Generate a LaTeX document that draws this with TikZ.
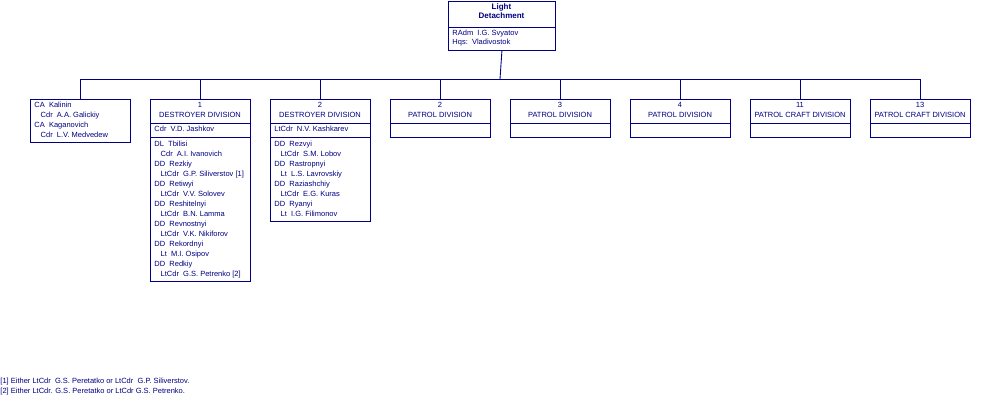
\documentclass[tikz,border=0pt]{standalone}
\usepackage{fontspec}
\setmainfont{Liberation Sans}
\definecolor{nv}{RGB}{0,0,128}
\begin{document}
\begin{tikzpicture}[x=1pt,y=-1pt,color=nv,line width=0.9pt,
  box/.style={draw,rectangle,inner sep=0,anchor=north west},
  tx/.style={anchor=north west,inner sep=0,font=\fontsize{7.5}{9.5}\selectfont,align=left},
  hd/.style={anchor=north,inner sep=0,font=\fontsize{7.5}{9.5}\selectfont,align=center}]
\useasboundingbox (0,0) rectangle (1000,400);
% top
\node[box,minimum width=107pt,minimum height=49pt] (top) at (448,0.5) {};
\draw (448,27) -- (555,27);
\node[hd,font=\fontsize{8}{9.5}\selectfont\bfseries] at (501.5,3) {Light\\Detachment};
\node[tx] at (452,29.5) {RAdm\ \ I.G. Svyatov\\Hqs:\ \ Vladivostok};
\coordinate (bus) at (500,79);
\draw (top.south) -- (bus);
\draw (80,79) -- (920,79);
% boxes
\node[box,minimum width=100pt,minimum height=43pt] (b1) at (30,99) {};
\node[tx] at (34,102) {CA\ \ Kalinin\\\ \ \ Cdr\ \ A.A. Galickiy\\[1pt]CA\ \ Kaganovich\\\ \ \ Cdr\ \ L.V. Medvedew};
\node[box,minimum width=100pt,minimum height=182pt] (b2) at (150,99) {};
\draw (150,123) -- (250,123) (150,137) -- (250,137);
\node[hd] at (200,102) {1\\DESTROYER DIVISION};
\node[tx] at (154,126) {Cdr\ \ V.D. Jashkov};
\node[tx] at (154,141) {DL\ \ Tbilisi\\\ \ \ Cdr\ \ A.I. Ivanovich\\[1pt]DD\ \ Rezkiy\\\ \ \ LtCdr\ \ G.P. Siliverstov [1]\\[1pt]DD\ \ Retiwyi\\\ \ \ LtCdr\ \ V.V. Solovev\\[1pt]DD\ \ Reshitelnyi\\\ \ \ LtCdr\ \ B.N. Lamma\\[1pt]DD\ \ Revnostnyi\\\ \ \ LtCdr\ \ V.K. Nikiforov\\[1pt]DD\ \ Rekordnyi\\\ \ \ Lt\ \ M.I. Osipov\\[1pt]DD\ \ Redkiy\\\ \ \ LtCdr\ \ G.S. Petrenko [2]};
\node[box,minimum width=100pt,minimum height=122pt] (b3) at (270,99) {};
\draw (270,123) -- (370,123) (270,137) -- (370,137);
\node[hd] at (320,102) {2\\DESTROYER DIVISION};
\node[tx] at (274,126) {LtCdr\ \ N.V. Kashkarev};
\node[tx] at (274,141) {DD\ \ Rezvyi\\\ \ \ LtCdr\ \ S.M. Lobov\\[1pt]DD\ \ Rastropnyi\\\ \ \ Lt\ \ L.S. Lavrovskiy\\[1pt]DD\ \ Raziashchiy\\\ \ \ LtCdr\ \ E.G. Kuras\\[1pt]DD\ \ Ryanyi\\\ \ \ Lt\ \ I.G. Filimonov};
\foreach \n/\x/\a/\b in {b4/390/2/PATROL DIVISION,b5/510/3/PATROL DIVISION,b6/630/4/PATROL DIVISION,b7/750/11/PATROL CRAFT DIVISION,b8/870/13/PATROL CRAFT DIVISION}{
  \node[box,minimum width=100pt,minimum height=38pt] (\n) at (\x,99) {};
  \draw (\x,123) -- (\x+100,123);
  \node[hd] at (\x+50,102) {\a\\\b};
}
\foreach \n in {b1,b2,b3,b4,b5,b6,b7,b8}
  \draw (\n.north) -- (\n.north |- bus);
\node[tx] at (0,378) {[1] Either LtCdr\ \ G.S. Peretatko or LtCdr\ \ G.P. Siliverstov.\\{}[2] Either LtCdr. G.S. Peretatko or LtCdr G.S. Petrenko.};
\end{tikzpicture}
\end{document}
